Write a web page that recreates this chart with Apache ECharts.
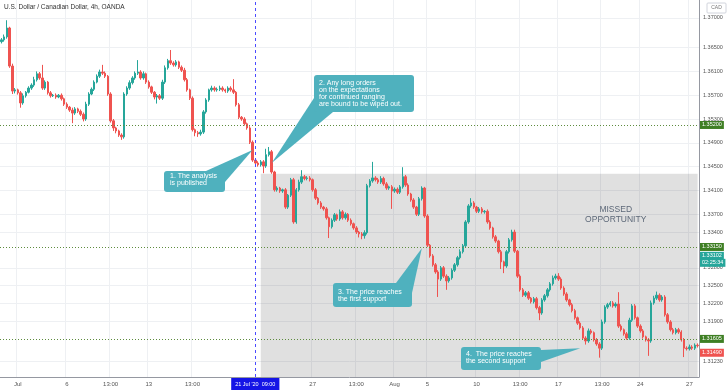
<!DOCTYPE html>
<html><head><meta charset="utf-8">
<script src="https://cdn.jsdelivr.net/npm/echarts@6/dist/echarts.min.js"></script>
<style>html,body{margin:0;padding:0;background:#fff}#c{width:728px;height:391px}</style>
</head><body><div id="c"></div>
<script>
// ---------- data ----------
const firstOpen = 1.3660;
const closes = [
 1.3663,1.3668,1.3683,1.3619,1.3577,1.3579,1.3574,1.3557,1.3569,1.3575,1.3582,1.3587,1.3596,1.3606,1.3599,1.3582,
 1.3592,1.3574,1.3569,1.3570,1.3567,1.3570,1.3564,1.3555,1.3550,1.3545,1.3540,1.3547,1.3543,1.3538,1.3530,1.3555,
 1.3572,1.3580,1.3592,1.3602,1.3609,1.3607,1.3602,1.3572,1.3527,1.3515,1.3510,1.3503,1.3500,1.3572,1.3582,1.3591,
 1.3599,1.3607,1.3609,1.3599,1.3606,1.3592,1.3584,1.3575,1.3567,1.3569,1.3565,1.3592,1.3616,1.3628,1.3624,1.3621,
 1.3626,1.3617,1.3612,1.3596,1.3579,1.3565,1.3512,1.3507,1.3505,1.3508,1.3542,1.3562,1.3579,1.3582,1.3579,1.3580,
 1.3582,1.3579,1.3577,1.3582,1.3579,1.3575,1.3554,1.3533,1.3530,1.3522,1.3515,1.3491,1.3461,1.3456,1.3453,1.3458,
 1.3451,1.3470,1.3475,1.3441,1.3411,1.3414,1.3409,1.3411,1.3382,1.3402,1.3428,1.3357,1.3411,1.3424,1.3433,1.3430,
 1.3431,1.3428,1.3411,1.3397,1.3389,1.3382,1.3379,1.3364,1.3349,1.3360,1.3369,1.3362,1.3374,1.3364,1.3370,1.3360,
 1.3354,1.3347,1.3340,1.3337,1.3334,1.3339,1.3418,1.3426,1.3431,1.3428,1.3424,1.3430,1.3421,1.3414,1.3416,1.3409,
 1.3412,1.3407,1.3416,1.3433,1.3419,1.3404,1.3394,1.3382,1.3370,1.3396,1.3414,1.3367,1.3318,1.3300,1.3285,1.3273,
 1.3261,1.3280,1.3266,1.3258,1.3263,1.3276,1.3285,1.3297,1.3307,1.3317,1.3357,1.3384,1.3389,1.3382,1.3375,1.3379,
 1.3374,1.3375,1.3357,1.3347,1.3332,1.3325,1.3307,1.3290,1.3283,1.3307,1.3327,1.3340,1.3308,1.3266,1.3243,1.3234,
 1.3238,1.3229,1.3223,1.3228,1.3213,1.3204,1.3226,1.3233,1.3243,1.3253,1.3263,1.3266,1.3261,1.3246,1.3236,1.3226,
 1.3218,1.3208,1.3196,1.3187,1.3179,1.3162,1.3157,1.3174,1.3171,1.3159,1.3152,1.3145,1.3189,1.3214,1.3218,1.3221,
 1.3216,1.3219,1.3182,1.3176,1.3169,1.3162,1.3192,1.3216,1.3196,1.3182,1.3174,1.3164,1.3159,1.3157,1.3221,1.3229,
 1.3234,1.3226,1.3231,1.3201,1.3189,1.3176,1.3171,1.3176,1.3172,1.3159,1.3145,1.3144,1.3147,1.3145,1.3150,1.3149
];
// upper / lower wick lengths in pips (0.0001)
const wickUpPips = [
 3,4,13,2,4,3,2,3,4,2,3,3,5,4,3,22, 3,2,3,2,3,2,3,2,3,2,4,3,2,3,3,4,
 3,3,3,3,4,12,3,2,3,3,2,2,3,3,3,4, 3,3,20,3,4,2,3,2,2,3,3,4,4,3,18,3,
 3,2,3,4,3,2,3,2,3,4,3,3,2,4,3,3, 4,3,2,3,3,18,2,3,2,3,2,3,3,2,3,3,
 3,10,8,3,2,3,2,2,3,2,3,3,3,4,11,3, 3,3,2,3,2,3,2,3,2,3,3,2,4,3,3,2,
 3,2,3,2,3,4,3,3,27,3,3,4,3,3,2,3, 3,3,3,16,3,3,2,3,2,3,3,2,3,2,3,3,
 3,3,3,3,3,3,3,3,4,3,3,3,8,3,2,3, 3,2,3,3,2,3,2,3,2,3,3,4,4,2,3,3,
 3,3,2,3,3,3,3,3,3,3,4,4,5,3,3,3, 2,3,3,2,3,3,3,4,3,2,3,3,4,3,3,3,
 3,3,20,3,2,3,4,3,3,2,3,3,2,3,4,4, 6,3,3,3,3,3,3,3,3,3,3,3,4,3,3,3
];
const wickDownPips = [
 3,3,3,3,5,4,3,8,3,3,2,3,3,3,3,3, 3,3,3,2,3,2,3,3,3,3,17,3,3,3,4,3,
 3,2,3,2,3,3,3,3,3,5,4,3,5,3,3,3, 3,3,3,3,3,3,3,3,4,11,3,3,3,3,3,3,
 3,3,3,3,3,3,3,6,5,3,3,3,3,3,3,3, 3,3,3,3,3,3,3,3,3,3,3,3,3,4,3,3,
 12,3,3,3,3,3,3,3,3,3,3,3,3,3,3,3, 3,3,3,3,3,3,3,3,19,3,3,3,3,3,3,3,
 3,3,3,6,6,5,3,3,3,3,3,3,3,3,3,30, 3,3,3,3,3,3,3,3,3,3,3,3,3,3,3,3,
 30,3,3,15,3,3,3,3,3,3,3,3,3,3,3,3, 3,3,3,3,3,3,3,12,12,3,3,3,3,3,3,3,
 3,3,3,3,3,12,3,3,3,3,3,3,3,3,3,3, 3,3,3,3,3,3,6,3,3,3,3,16,3,3,3,3,
 3,3,3,3,3,3,3,3,3,3,3,3,3,25,3,3, 3,3,3,3,3,3,3,3,3,3,15,3,3,3,3,3
];
const firstTradingDay = '2020-06-30';
const barHours = ['21:00','01:00','05:00','09:00','13:00','17:00'];
const xTickLabels = [[6,'Jul'],[24,'6'],[40,'13:00'],[54,'13'],[70,'13:00'],[114,'27'],[130,'13:00'],
  [144,'Aug'],[156,'5'],[174,'10'],[190,'13:00'],[204,'17'],[220,'13:00'],[234,'24'],[252,'27']];
const yTickValues = [1.37,1.365,1.361,1.357,1.353,1.349,1.345,1.341,1.337,1.334,1.328,1.325,1.322,1.319,1.3123];
const yMin = 1.30965, yMax = 1.37300;
const supportLevels = [1.3520, 1.3315, 1.31605];
const lastPrice = 1.3149;
const otherPrice = 1.33102;
const countdownText = '02:25:34';
const analysisIndex = 93;
const analysisLabel = "21 Jul '20  09:00";
const missedStartIndex = 95;
const missedTop = 1.3438;
const missedText = ['MISSED','OPPORTUNITY'];
const missedAnchor = [225, 1.3369];
const titleText = 'U.S. Dollar / Canadian Dollar, 4h, OANDA';
const callouts = [
  {lines:['1. The analysis','is published'], tip:[92,1.3478], box:[164,171,61,21], base:[[206,171],[225,182]], textPos:[170,173]},
  {lines:['2. Any long orders','on the expectations','for continued ranging','are bound to be wiped out.'], tip:[99,1.3456], box:[314,75,100,37], base:[[314,98],[333,112]], textPos:[319,80]},
  {lines:['3. The price reaches','the first support'], tip:[154,1.3313], box:[333,283,79,24], base:[[396,283],[412,293]], textPos:[338,289]},
  {lines:['4.  The price reaches','the second support'], tip:[212,1.3145], box:[461,347,80,23], base:[[541,350],[541,362]], textPos:[466,351]}
];

// ---------- build ----------
const cats = [];
(function(){
  let d = new Date(firstTradingDay + 'T00:00:00Z');
  while (cats.length < closes.length) {
    const wd = d.getUTCDay();
    if (wd !== 0 && wd !== 6) {
      const ds = d.toISOString().slice(0,10);
      for (const h of barHours) { if (cats.length < closes.length) cats.push(ds + ' ' + h); }
    }
    d = new Date(d.getTime() + 86400000);
  }
})();
const candles = closes.map((c,i) => {
  const o = i === 0 ? firstOpen : closes[i-1];
  const hi = Math.max(o,c) + wickUpPips[i]*0.0001;
  const lo = Math.min(o,c) - wickDownPips[i]*0.0001;
  return [o, c, +lo.toFixed(5), +hi.toFixed(5)];
});
const tickMap = new Map(xTickLabels);

const UP = '#26a69a', DOWN = '#ef5350';
const lvlLabel = (bg) => ({show:true, position:'end', distance:1, color:'#fff', backgroundColor:bg, fontSize:5.5, padding:[1,2,1,2], fontFamily:'Arial'});
const hidden = {color:'rgba(0,0,0,0)', width:0};

const chart = echarts.init(document.getElementById('c'), null, {renderer:'canvas'});
chart.setOption({
  animation:false,
  backgroundColor:'#ffffff',
  title:{text:titleText, left:4, top:4, padding:0, textStyle:{fontSize:6.5, fontWeight:'normal', color:'#333', fontFamily:'Arial'}},
  grid:{left:0, right:29, top:0, bottom:14, containLabel:false, outerBoundsMode:'none'},
  xAxis:{
    type:'category', data:cats, boundaryGap:true,
    axisLine:{lineStyle:{color:'#9598a1', width:1}},
    axisTick:{show:false},
    axisLabel:{interval:(i)=>tickMap.has(i), formatter:(v,i)=>tickMap.get(i)||'', fontSize:6, color:'#555', margin:4, fontFamily:'Arial'},
    splitLine:{show:true, interval:(i)=>tickMap.has(i), lineStyle:{color:'#eef0f3', width:1}}
  },
  yAxis:{
    type:'value', position:'right', min:yMin, max:yMax, scale:true,
    axisLine:{show:true, lineStyle:{color:'#9598a1', width:1}},
    axisTick:{show:false, customValues:yTickValues},
    axisLabel:{customValues:yTickValues, formatter:(v)=>v.toFixed(5), fontSize:5.5, color:'#555', margin:4, fontFamily:'Arial'},
    splitLine:{show:true, lineStyle:{color:'#eef0f3', width:1}}
  },
  series:[{
    type:'candlestick', data:candles, barWidth:'72%',
    itemStyle:{color:UP, color0:DOWN, borderColor:UP, borderColor0:DOWN, borderWidth:1},
    markArea:{silent:true, itemStyle:{color:'rgba(0,0,0,0.12)'},
      data:[[{xAxis:missedStartIndex, yAxis:missedTop},{xAxis:closes.length-1, yAxis:yMin}]]},
    markLine:{silent:true, symbol:['none','none'], animation:false, precision:5,
      data:[
        ...supportLevels.map(v=>({yAxis:v, lineStyle:{color:'#5e8c3e', type:[1,2], width:1}, label:{...lvlLabel('#3f7f24'), formatter:v.toFixed(5)}})),
        {yAxis:otherPrice, lineStyle:hidden, label:{...lvlLabel('#26a69a'), formatter:otherPrice.toFixed(5), offset:[0,6]}},
        {yAxis:otherPrice, lineStyle:hidden, label:{...lvlLabel('#26a69a'), formatter:countdownText, offset:[0,13]}},
        {yAxis:lastPrice, lineStyle:hidden, label:{...lvlLabel('#ef5350'), formatter:lastPrice.toFixed(5), offset:[0,7]}},
        {xAxis:analysisIndex, lineStyle:{color:'#4b4bff', type:[3,3], width:1},
          label:{position:'start', distance:1, formatter:analysisLabel, color:'#fff', backgroundColor:'#1414e6', fontSize:5.5, padding:[3,4,3,4], fontFamily:'Arial'}}
      ]}
  }]
});

// annotations anchored to data coordinates
const g = [];
const CALL = '#4fb1be';
callouts.forEach((c)=>{
  const tip = chart.convertToPixel({seriesIndex:0}, c.tip);
  g.push({type:'polygon', z:100, shape:{points:[c.base[0], c.base[1], tip]}, style:{fill:CALL}});
  g.push({type:'rect', z:101, shape:{x:c.box[0], y:c.box[1], width:c.box[2], height:c.box[3], r:3}, style:{fill:CALL}});
  g.push({type:'text', z:102, x:c.textPos[0], y:c.textPos[1], style:{text:c.lines.join('\n'), fill:'#fff', fontSize:7, lineHeight:7, fontFamily:'Arial', verticalAlign:'top'}});
});
const mp = chart.convertToPixel({seriesIndex:0}, missedAnchor);
g.push({type:'text', z:50, x:mp[0], y:mp[1], style:{text:missedText.join('\n'), fill:'#5d6878', fontSize:8.5, lineHeight:9.5, fontFamily:'Arial', align:'center', verticalAlign:'middle'}});
g.push({type:'rect', z:50, shape:{x:707, y:3, width:19, height:10, r:1}, style:{fill:'#fff', stroke:'#d1d4dc', lineWidth:1}});
g.push({type:'text', z:51, x:716.5, y:8, style:{text:'CAD', fill:'#777', fontSize:5, fontFamily:'Arial', align:'center', verticalAlign:'middle'}});
chart.setOption({graphic:g});
</script></body></html>
